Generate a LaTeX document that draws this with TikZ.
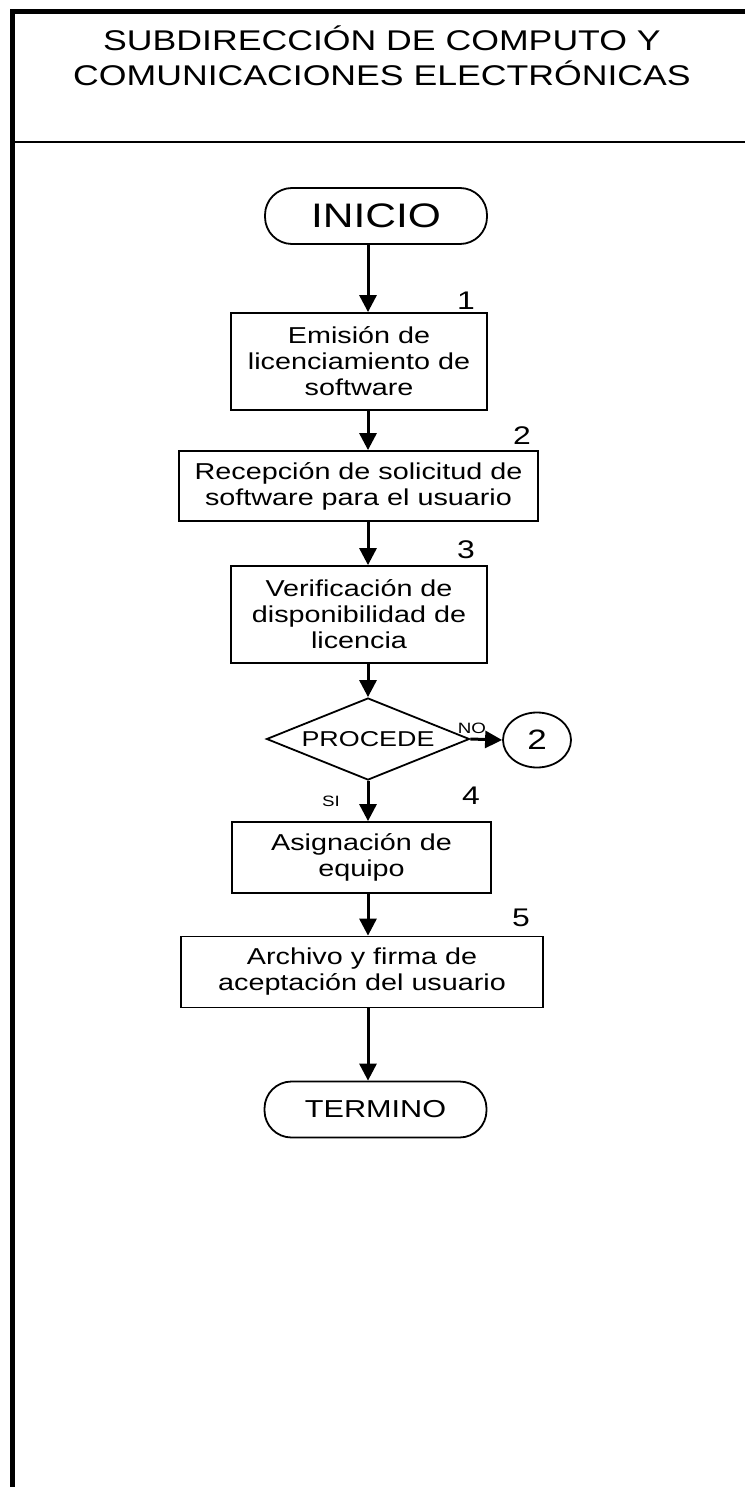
\documentclass[tikz,border=0pt]{standalone}
\usepackage{fontspec}
\setmainfont{Liberation Sans}[FakeStretch=1.25]
\usetikzlibrary{arrows.meta,shapes.geometric}

\begin{document}
\begin{tikzpicture}[x=1pt, y=-1pt,
  caja/.style={draw, line width=1.8pt, inner sep=0pt, align=center,
    font=\fontsize{23}{26}\selectfont},
  terminal/.style={draw, line width=1.8pt, rounded corners=27pt, inner sep=0pt,
    minimum width=222pt, minimum height=56pt},
  flecha/.style={-{Triangle[length=17pt,width=17pt]}, line width=3pt},
  numero/.style={font=\fontsize{25.5}{25.5}\selectfont},
  rama/.style={font=\fontsize{15}{15}\selectfont}]
  \useasboundingbox (0,0) rectangle (745,1487);
  % the frame and the header
  \draw[line width=5pt] (12,1487) -- (12,12) -- (745,12);
  \draw[line width=1.6pt] (12,142) -- (745,142);
  \node[align=center, inner sep=0pt, font=\fontsize{28.5}{35}\selectfont] (titulo) at (382,56)
    {SUBDIRECCIÓN DE COMPUTO Y\\COMUNICACIONES ELECTRÓNICAS};
  % the steps
  \coordinate (eje) at (368,0);
  \node[terminal, font=\fontsize{34}{34}\selectfont] (inicio) at (376,216) {INICIO};
  \node[caja, minimum width=256pt, minimum height=97pt] (emision) at (359,361.5)
    {Emisión de\\licenciamiento de\\software};
  \node[caja, minimum width=359pt, minimum height=70pt] (recepcion) at (358.5,486)
    {Recepción de solicitud de\\software para el usuario};
  \node[caja, minimum width=256pt, minimum height=97pt] (verifica) at (359,614.5)
    {Verificación de\\disponibilidad de\\licencia};
  \node[draw, diamond, aspect=2.5, line width=1.8pt, inner sep=0pt, minimum width=203pt,
    minimum height=82pt, font=\fontsize{21.5}{21.5}\selectfont] (procede) at (368,739) {PROCEDE};
  \node[draw, ellipse, line width=1.8pt, inner sep=0pt, minimum width=68pt, minimum height=55pt,
    font=\fontsize{28}{28}\selectfont] (regreso) at (537,740) {2};
  \node[caja, minimum width=259pt, minimum height=71pt] (asigna) at (361.5,857.5)
    {Asignación de\\equipo};
  \node[caja, minimum width=362pt, minimum height=71pt] (archivo) at (362,972)
    {Archivo y firma de\\aceptación del usuario};
  \node[terminal, font=\fontsize{24.5}{24.5}\selectfont] (termino) at (375.5,1109.5) {TERMINO};
  % the flow
  \foreach \a/\b in {inicio/emision, emision/recepcion, recepcion/verifica, verifica/procede,
    procede/asigna, asigna/archivo, archivo/termino}
    \draw[flecha] (\a.south -| eje) -- (\b.north -| eje);
  \draw[flecha] (procede.east) -- (regreso.west);
  \node[rama] (no) at (472,728) {NO};
  \node[rama] (si) at (331,801) {SI};
  % step numbers
  \foreach \n/\x/\y in {1/466/301, 2/522/436, 3/466/550, 4/471/796, 5/521/918}
    \node[numero] (paso\n) at (\x,\y) {\n};
\end{tikzpicture}
\end{document}
